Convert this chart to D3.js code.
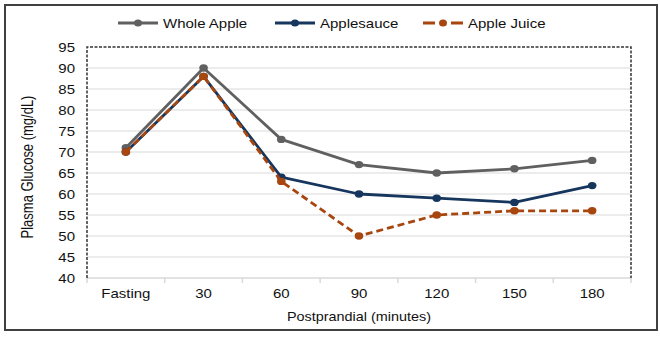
<!DOCTYPE html>
<html><head><meta charset="utf-8">
<script src="https://cdn.jsdelivr.net/npm/d3@7"></script>
<style>body{margin:0;background:#fff}svg{display:block}text{font-family:"Liberation Sans",Arial,sans-serif;fill:#111}</style>
</head><body>
<script>
const categories = ["Fasting","30","60","90","120","150","180"];
const wholeApple = [71,90,73,67,65,66,68];
const applesauce = [70,88,64,60,59,58,62];
const appleJuice = [70,88,63,50,55,56,56];
const yTicks = [40,45,50,55,60,65,70,75,80,85,90,95];
const seriesNames = ["Whole Apple","Applesauce","Apple Juice"];

const W=660,H=338, SX=1.2;
const svg=d3.select("body").append("svg").attr("width",W).attr("height",H);
svg.append("rect").attr("x",5).attr("y",5).attr("width",652).attr("height",325)
  .attr("fill","#fff").attr("stroke","#404040").attr("stroke-width",2);

const L=87,R=631,T=47,B=278;
const x=d3.scaleBand().domain(categories).range([L,R]);
const y=d3.scaleLinear().domain([40,95]).range([B,T]);

function txt(g,xx,yy,s,anchor,size){
  return g.append("text").attr("transform",`translate(${xx},${yy}) scale(${SX},1)`)
   .attr("text-anchor",anchor).style("font-size",(size||12.5)+"px").text(s);
}
// gridlines
const grid=svg.append("g");
yTicks.filter(v=>v>40&&v<95).forEach(v=>{
  grid.append("line").attr("x1",L).attr("x2",R).attr("y1",y(v)).attr("y2",y(v))
   .attr("stroke","#d9d9d9").attr("stroke-width",1.2);
});
// x axis line and ticks
grid.append("line").attr("x1",L).attr("x2",R).attr("y1",B).attr("y2",B).attr("stroke","#d9d9d9").attr("stroke-width",1.5);
d3.range(categories.length+1).forEach(i=>{
  const xx = i<categories.length ? x(categories[i]) : R;
  grid.append("line").attr("x1",xx).attr("x2",xx).attr("y1",B).attr("y2",B+5).attr("stroke","#d9d9d9").attr("stroke-width",1.5);
});
// dashed plot border
const bd=svg.append("g").attr("fill","none").attr("stroke","#333").attr("stroke-width",1.5).attr("stroke-dasharray","3,1.5");
bd.append("path").attr("d",`M${L},${B}V${T}H${R}V${B}`);

// y labels
yTicks.forEach(v=>txt(svg,75,y(v)+4.5,v,"end"));
// x labels
categories.forEach(c=>txt(svg,x(c)+x.bandwidth()/2,298,c,"middle"));
// titles
txt(svg,359,321,"Postprandial (minutes)","middle",12);
svg.append("text").attr("transform",`translate(33,167) rotate(-90) scale(1,${SX})`)
  .attr("text-anchor","middle").style("font-size","13px").text("Plasma Glucose (mg/dL)");

const styles=[
 {name:seriesNames[0],data:wholeApple,color:"#606060",dash:null},
 {name:seriesNames[1],data:applesauce,color:"#17365d",dash:null},
 {name:seriesNames[2],data:appleJuice,color:"#a8460f",dash:"7,4"}
];
const line=d3.line().x((d,i)=>x(categories[i])+x.bandwidth()/2).y(d=>y(d));
styles.forEach(s=>{
  const g=svg.append("g");
  g.append("path").attr("d",line(s.data)).attr("fill","none").attr("stroke",s.color)
   .attr("stroke-width",2.8).attr("stroke-dasharray",s.dash).attr("stroke-linejoin","round");
  s.data.forEach((d,i)=>g.append("ellipse").attr("cx",x(categories[i])+x.bandwidth()/2).attr("cy",y(d))
     .attr("rx",4.3).attr("ry",3.7).attr("fill",s.color));
});
// legend
const lx=[118,275,423];
styles.forEach((s,i)=>{
  const g=svg.append("g");
  g.append("line").attr("x1",lx[i]).attr("x2",lx[i]+40).attr("y1",23).attr("y2",23)
   .attr("stroke",s.color).attr("stroke-width",2.8).attr("stroke-dasharray",s.dash?"12,16":null);
  g.append("ellipse").attr("cx",lx[i]+20).attr("cy",23).attr("rx",4).attr("ry",3.5).attr("fill",s.color);
  txt(g,lx[i]+45,27.5,s.name,"start",12.5);
});
</script>
</body></html>
